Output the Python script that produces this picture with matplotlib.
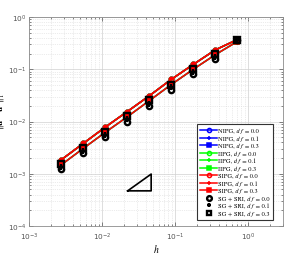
import matplotlib
matplotlib.use("Agg")
import matplotlib.pyplot as plt

plt.rcParams['mathtext.fontset'] = 'stix'

h = [0.00276, 0.00552, 0.01105, 0.0221, 0.0442, 0.0884, 0.177, 0.354, 0.707]

# NIPG / IIPG lie under the SIPG curves
nipg = {
    '0.0': [1.85e-3, 3.8e-3, 7.8e-3, 1.55e-2, 3.1e-2, 6.4e-2, 0.124, 0.235, 0.37],
    '0.1': [1.85e-3, 3.8e-3, 7.8e-3, 1.55e-2, 3.1e-2, 6.4e-2, 0.124, 0.235, 0.37],
    '0.3': [1.48e-3, 3.05e-3, 6.2e-3, 1.23e-2, 2.5e-2, 5.1e-2, 0.1, 0.19, 0.34],
}
iipg = dict(nipg)
sipg = dict(nipg)
sg_sri = {
    '0.0': [1.25e-3, 2.5e-3, 5.0e-3, 1.0e-2, 2.0e-2, 4.1e-2, 0.08, 0.16, 0.36],
    '0.1': [1.35e-3, 2.7e-3, 5.4e-3, 1.1e-2, 2.2e-2, 4.5e-2, 0.088, 0.175, 0.37],
    '0.3': [1.55e-3, 3.15e-3, 6.3e-3, 1.27e-2, 2.55e-2, 5.1e-2, 0.10, 0.195, 0.36],
}
dfs = ['0.0', '0.1', '0.3']
markers = {'0.0': 'o', '0.1': '+', '0.3': 's'}
DF = '\U0001D451\U0001D453'  # italic "df"

# slope-1 triangle
tri_x = [0.0224, 0.047, 0.047, 0.0224]
tri_y = [4.7e-4, 4.7e-4, 9.86e-4, 4.7e-4]

fig = plt.figure(figsize=(2.93, 2.55), dpi=100)
ax = fig.add_axes([0.099, 0.110, 0.867, 0.819])

for name, data, col in [('NIPG', nipg, '#0000ff'), ('IIPG', iipg, '#00ff00'),
                        ('SIPG', sipg, '#ff0000')]:
    for df in dfs:
        m = markers[df]
        ax.loglog(h, data[df], color=col, lw=1.1, marker=m, ms=3.3,
                  mfc='none' if m == 'o' else col, mew=1.1,
                  label=name + ', ' + DF + ' = ' + df)

for df in dfs:
    m = markers[df]
    ax.loglog(h, sg_sri[df], ls='none', color='k', marker=m, ms=3.8,
              mfc='none', mew=1.7, label='SG + SRI, ' + DF + ' = ' + df)

ax.plot(tri_x, tri_y, color='k', lw=1.2)

ax.set_xlim(1e-3, 3)
ax.set_ylim(1e-4, 1)
ax.grid(True, which='major', color='#d0d0d0', lw=0.5, ls='-')
ax.grid(True, which='minor', color='#d8d8d8', lw=0.5, ls=':')
for s in ax.spines.values():
    s.set_color('#8c8c8c')
    s.set_linewidth(0.6)
ax.tick_params(which='both', direction='in', top=True, right=True,
               colors='#555555', labelsize=5.3, width=0.5, pad=2)
ax.tick_params(axis='x', pad=3.5)
ax.tick_params(which='major', length=3)
ax.tick_params(which='minor', length=1.5)

ax.set_xlabel(r'$h$', fontsize=7)
ax.set_ylabel(r'$\|\mathbf{u}-\mathbf{u}^h\|_1$', fontsize=6.5)
ax.xaxis.set_label_coords(0.5, -0.075)
ax.yaxis.set_label_coords(-0.085, 0.55)

leg = ax.legend(loc='lower right', bbox_to_anchor=(0.975, 0.015),
                prop={'family': ['STIXGeneral', 'DejaVu Serif'], 'size': 4.6},
                fancybox=False, framealpha=1, edgecolor='#333333',
                handlelength=2.6, labelspacing=0.32, borderpad=0.55,
                handletextpad=0.2, markerscale=0.9)
leg.get_frame().set_linewidth(0.8)

fig.savefig('out.png', dpi=100)
